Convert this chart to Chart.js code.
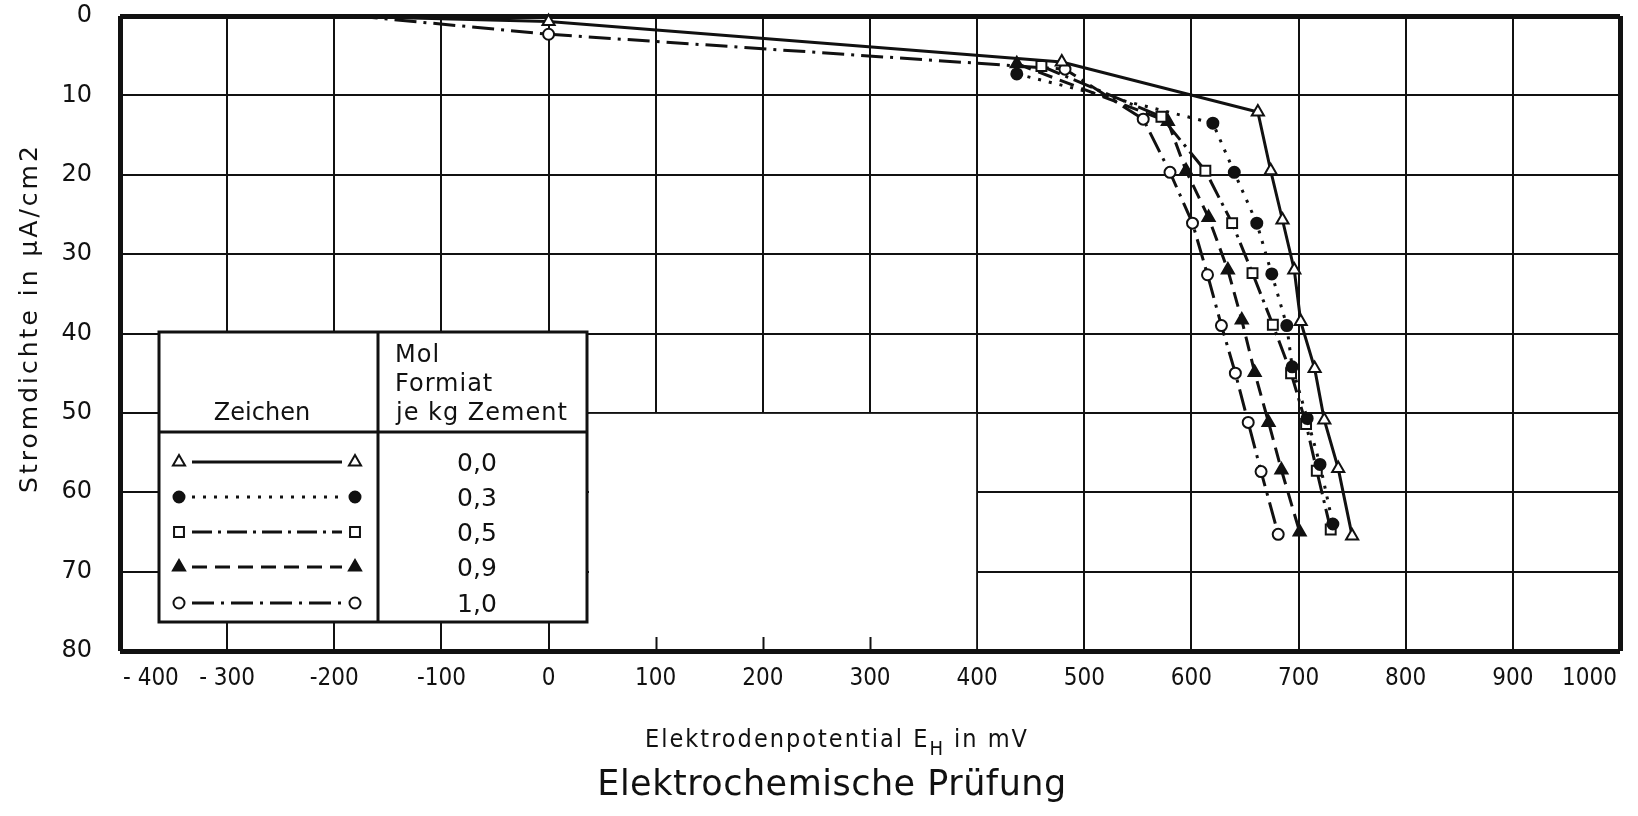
<!DOCTYPE html>
<html>
<head>
<meta charset="utf-8">
<script src="https://cdn.jsdelivr.net/npm/chart.js@4.4.1/dist/chart.umd.min.js"></script>
<style>
  html, body { margin: 0; padding: 0; background: #fff; }
  canvas { display: block; }
</style>
</head>
<body>
<canvas id="chart" width="1638" height="816"></canvas>
<script>
// tick labels
const xTicks = [-400, -300, -200, -100, 0, 100, 200, 300, 400, 500, 600, 700, 800, 900, 1000];
const xTickLabels = ['- 400', '- 300', '-200', '-100', '0', '100', '200', '300', '400', '500', '600', '700', '800', '900', '1000'];
const yTickLabels = ['0', '10', '20', '30', '40', '50', '60', '70', '80'];

// Mol Formiat je kg Zement
const mol = ['0,0', '0,3', '0,5', '0,9', '1,0'];

// Elektrodenpotential (mV) / Stromdichte (µA/cm2) per series
const x00 = [-200, 0, 479, 662, 674, 685, 696, 702, 715, 724, 737, 750];
const y00 = [0, 0.7, 5.8, 12.1, 19.5, 25.7, 32, 38.5, 44.4, 50.9, 57, 65.5];
const x03 = [437, 620, 640, 661, 675, 689, 694, 708, 720, 732];
const y03 = [7.3, 13.5, 19.7, 26.1, 32.5, 39, 44.2, 50.7, 56.5, 64];
const x05 = [460, 572, 613, 638, 657, 676, 693, 707, 717, 730];
const y05 = [6.3, 12.7, 19.5, 26.1, 32.4, 38.9, 45, 51.4, 57.3, 64.7];
const x09 = [437, 578, 595, 616, 634, 647, 659, 672, 684, 701];
const y09 = [6.0, 13.3, 19.5, 25.4, 32, 38.3, 44.9, 51.2, 57.2, 65];
const x10 = [-180, 0, 482, 555, 580, 601, 615, 628, 641, 653, 665, 681];
const y10 = [0, 2.3, 6.7, 13, 19.7, 26.1, 32.6, 39, 45, 51.2, 57.4, 65.3];

const ink = '#111';
const FONT = '"DejaVu Sans", sans-serif';
const CFONT = '"DejaVu Sans Condensed", "DejaVu Sans", sans-serif';

const styles = [
  { shape: 'triangle', filled: false, r: 7, dash: [] },
  { shape: 'circle', filled: true, r: 5.5, dash: [3, 8] },
  { shape: 'rect', filled: false, r: 7, dash: [20, 6, 3, 6] },
  { shape: 'triangle', filled: true, r: 7, dash: [15, 8] },
  { shape: 'circle', filled: false, r: 5.5, dash: [22, 7, 3, 7] }
];

function pts(xs, ys) {
  return xs.map((v, i) => ({ x: v, y: ys[i] }));
}

function makeSet(i, xs, ys, startNoMark) {
  const s = styles[i];
  return {
    label: mol[i],
    data: pts(xs, ys),
    showLine: true,
    borderColor: ink,
    borderWidth: 3,
    borderDash: s.dash,
    pointStyle: s.shape,
    pointRadius: xs.map((v, k) => (startNoMark && k === 0 ? 0 : s.r)),
    pointBackgroundColor: s.filled ? ink : '#fff',
    pointBorderColor: ink,
    pointBorderWidth: 2,
    tension: 0,
    clip: 12
  };
}

function drawMark(ctx, s, x, y) {
  ctx.save();
  ctx.setLineDash([]);
  ctx.lineWidth = 2;
  ctx.strokeStyle = ink;
  ctx.fillStyle = s.filled ? ink : '#fff';
  ctx.beginPath();
  if (s.shape === 'circle') {
    ctx.arc(x, y, s.r, 0, Math.PI * 2);
  } else if (s.shape === 'rect') {
    const h = s.r * Math.SQRT1_2;
    ctx.rect(x - h, y - h, 2 * h, 2 * h);
  } else {
    let a = 0;
    for (let k = 0; k < 3; k++) {
      const px = x + Math.sin(a) * s.r, py = y - Math.cos(a) * s.r;
      if (k === 0) ctx.moveTo(px, py); else ctx.lineTo(px, py);
      a += 2 * Math.PI / 3;
    }
    ctx.closePath();
  }
  ctx.fill();
  ctx.stroke();
  ctx.restore();
}

const deco = {
  id: 'deco',
  beforeDatasetsDraw(chart) {
    const { ctx, scales: { x, y } } = chart;
    ctx.save();
    // empty field right of the table
    const left = 589, right = x.getPixelForValue(400) - 1;
    const top = y.getPixelForValue(50) + 1, bottom = y.getPixelForValue(80) - 2;
    ctx.fillStyle = '#fff';
    ctx.fillRect(left, top, right - left, bottom - top);
    ctx.strokeStyle = ink;
    ctx.lineWidth = 2;
    [100, 200, 300].forEach(v => {
      const px = Math.round(x.getPixelForValue(v)) + 0.5;
      ctx.beginPath();
      ctx.moveTo(px, bottom);
      ctx.lineTo(px, bottom - 12);
      ctx.stroke();
    });
    ctx.restore();
  },
  afterDatasetsDraw(chart) {
    const { ctx, scales: { x } } = chart;
    ctx.save();
    // table
    const L = 159, R = 587, T = 332, B = 622, M = 378, H = 432;
    ctx.fillStyle = '#fff';
    ctx.fillRect(L, T, R - L, B - T);
    ctx.strokeStyle = ink;
    ctx.lineWidth = 3;
    ctx.strokeRect(L, T, R - L, B - T);
    ctx.beginPath();
    ctx.moveTo(M, T); ctx.lineTo(M, B);
    ctx.moveTo(L, H); ctx.lineTo(R, H);
    ctx.stroke();

    ctx.fillStyle = ink;
    ctx.font = '24px ' + FONT;
    ctx.textBaseline = 'alphabetic';
    ctx.textAlign = 'center';
    ctx.fillText('Zeichen', 262, 420);
    ctx.textAlign = 'left';
    ctx.letterSpacing = '1px';
    ctx.fillText('Mol', 395, 362);
    ctx.fillText('Formiat', 395, 391);
    ctx.fillText('je kg Zement', 396, 420);
    ctx.letterSpacing = '0px';

    const rows = [462, 497, 532, 567, 603];
    rows.forEach((ry, i) => {
      const s = styles[i];
      ctx.save();
      ctx.strokeStyle = ink;
      ctx.lineWidth = 3;
      ctx.setLineDash(s.dash);
      ctx.beginPath();
      ctx.moveTo(192, ry);
      ctx.lineTo(342, ry);
      ctx.stroke();
      ctx.restore();
      drawMark(ctx, s, 179, ry);
      drawMark(ctx, s, 355, ry);
      ctx.fillStyle = ink;
      ctx.font = '25px ' + FONT;
      ctx.textAlign = 'center';
      ctx.textBaseline = 'middle';
      ctx.fillText(mol[i], 477, ry + 2);
    });

    // x tick labels
    ctx.font = '24px ' + CFONT;
    ctx.textBaseline = 'alphabetic';
    xTicks.forEach((v, i) => {
      let px = x.getPixelForValue(v);
      let align = 'center';
      if (i === 0) { align = 'left'; px += 3; }
      if (i === xTicks.length - 1) { align = 'right'; px -= 3; }
      ctx.textAlign = align;
      ctx.fillText(xTickLabels[i], px, 685);
    });

    // x axis title with subscript
    ctx.letterSpacing = '2px';
    ctx.font = '25px ' + CFONT;
    const a = 'Elektrodenpotential E', c = ' in mV';
    const wa = ctx.measureText(a).width, wc = ctx.measureText(c).width;
    ctx.font = '20px ' + CFONT;
    const wb = ctx.measureText('H').width;
    let sx = 837 - (wa + wb + wc) / 2;
    ctx.textAlign = 'left';
    ctx.font = '25px ' + CFONT;
    ctx.fillText(a, sx, 747);
    ctx.font = '20px ' + CFONT;
    ctx.fillText('H', sx + wa, 755);
    ctx.font = '25px ' + CFONT;
    ctx.fillText(c, sx + wa + wb, 747);

    // y axis title
    ctx.save();
    ctx.translate(30, 318);
    ctx.rotate(-Math.PI / 2);
    ctx.font = '25px ' + FONT;
    ctx.letterSpacing = '3px';
    ctx.textAlign = 'center';
    ctx.textBaseline = 'middle';
    ctx.fillText('Stromdichte in µA/cm2', 0, 0);
    ctx.restore();

    // main title
    ctx.letterSpacing = '0.5px';
    ctx.font = '35px ' + FONT;
    ctx.textAlign = 'center';
    ctx.fillText('Elektrochemische Prüfung', 832, 795);
    ctx.restore();
  }
};

const edgeX = c => (c.tick && (c.tick.value === -400 || c.tick.value === 1000) ? 5 : 2);
const edgeY = c => (c.tick && (c.tick.value === 0 || c.tick.value === 80) ? 5 : 2);

new Chart(document.getElementById('chart'), {
  type: 'scatter',
  data: {
    datasets: [
      makeSet(0, x00, y00, true),
      makeSet(1, x03, y03, false),
      makeSet(2, x05, y05, false),
      makeSet(3, x09, y09, false),
      makeSet(4, x10, y10, true)
    ]
  },
  options: {
    responsive: false,
    animation: false,
    devicePixelRatio: 1,
    layout: { padding: { top: 16, right: 18, left: 0, bottom: 0 } },
    plugins: { legend: { display: false }, tooltip: { enabled: false }, title: { display: false } },
    scales: {
      x: {
        type: 'linear',
        min: -400,
        max: 1000,
        border: { display: false },
        grid: { color: ink, lineWidth: edgeX, drawTicks: false },
        ticks: { stepSize: 100, display: false },
        afterFit: s => { s.height = 165; s.paddingLeft = 0; s.paddingRight = 0; }
      },
      y: {
        type: 'linear',
        reverse: true,
        min: 0,
        max: 80,
        border: { display: false },
        grid: { color: ink, lineWidth: edgeY, drawTicks: false },
        ticks: {
          stepSize: 10,
          padding: 28,
          color: ink,
          font: { family: FONT, size: 24 },
          callback: v => yTickLabels[v / 10]
        },
        afterFit: s => { s.width = 120; s.paddingTop = 0; s.paddingBottom = 0; }
      }
    }
  },
  plugins: [deco]
});
</script>
</body>
</html>
